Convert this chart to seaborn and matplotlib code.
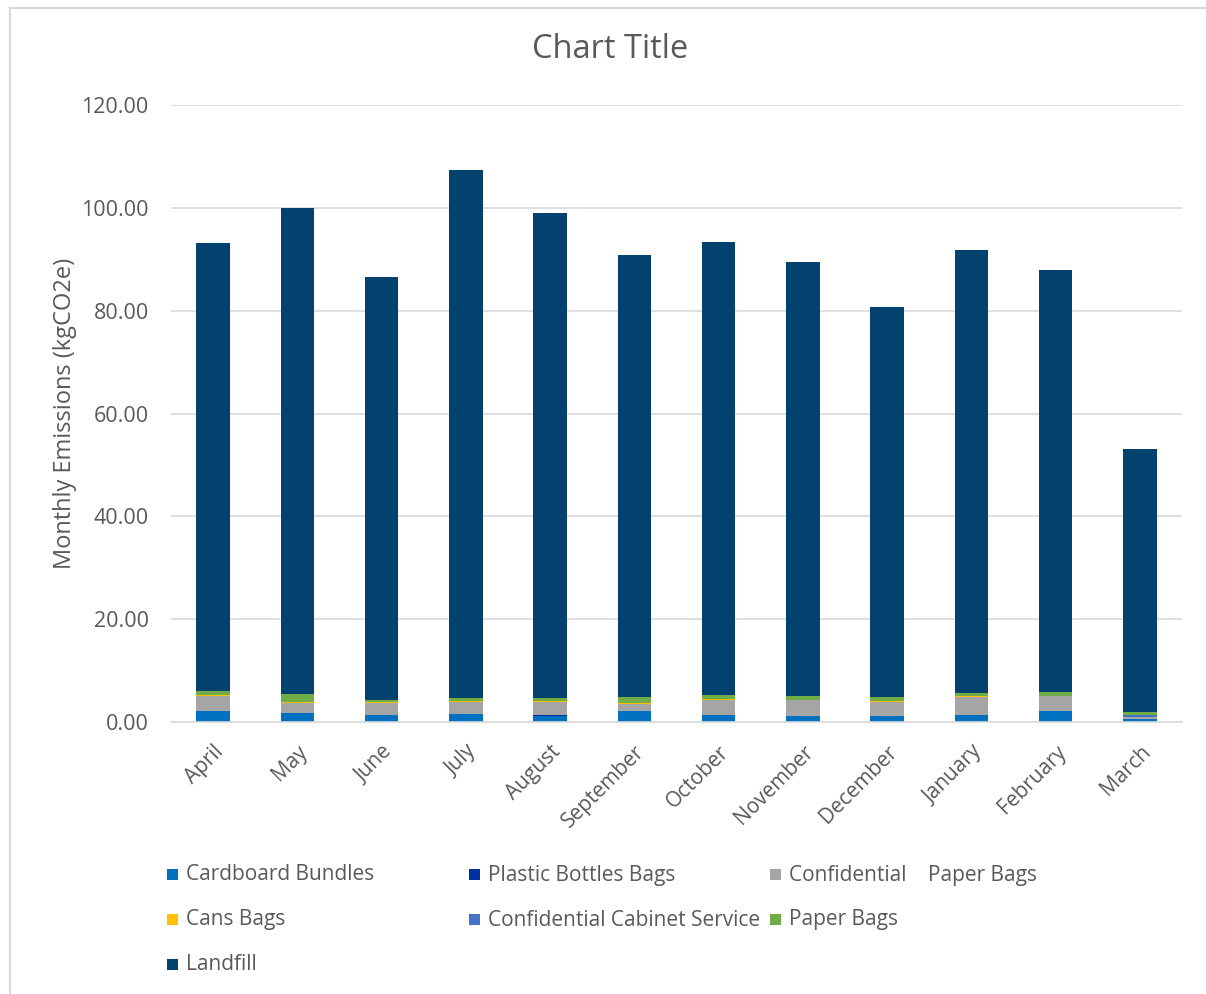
import matplotlib
matplotlib.use("Agg")
import matplotlib.pyplot as plt
import seaborn as sns
import numpy as np
import pandas as pd
from matplotlib.patches import Rectangle

months = ["April", "May", "June", "July", "August", "September", "October",
          "November", "December", "January", "February", "March"]
cardboard = [2.1, 1.7, 1.35, 1.55, 1.25, 2.1, 1.35, 1.15, 1.15, 1.35, 2.15, 0.55]
plastic = [0.02, 0.02, 0.02, 0.02, 0.02, 0.02, 0.02, 0.02, 0.02, 0.02, 0.02, 0.02]
conf_paper = [3.0, 2.05, 2.4, 2.4, 2.7, 1.4, 2.9, 3.05, 2.7, 3.55, 2.9, 0.35]
cans = [0.15, 0.15, 0.1, 0.1, 0.05, 0.2, 0.2, 0.1, 0.2, 0.05, 0.05, 0.1]
cabinet = [0.0, 0.0, 0.0, 0.0, 0.0, 0.0, 0.0, 0.0, 0.0, 0.0, 0.0, 0.25]
paper = [0.75, 1.55, 0.5, 0.65, 0.65, 1.05, 0.7, 0.8, 0.7, 0.7, 0.8, 0.7]
landfill = [87.2, 94.55, 82.2, 102.7, 94.4, 86.1, 88.2, 84.25, 75.9, 86.2, 82.05, 51.2]

series_names = ["Cardboard Bundles", "Plastic Bottles Bags", "Confidential    Paper Bags",
                "Cans Bags", "Confidential Cabinet Service", "Paper Bags", "Landfill"]
series_values = [cardboard, plastic, conf_paper, cans, cabinet, paper, landfill]
series_colors = ["#0070C0", "#002F9F", "#A5A5A5", "#FFC000", "#4472C4", "#70AD47", "#03426F"]

sns.set_theme(style="white")
plt.rcParams['font.family'] = ['Open Sans', 'DejaVu Sans']
text_color = "#595959"

W, H = 1206, 994
fig = plt.figure(figsize=(W / 100, H / 100), dpi=100)
ax = fig.add_axes([171 / W, 1 - 722 / H, (1182 - 171) / W, (722 - 105) / H])

bottom = np.zeros(len(months))
for name, vals, col in zip(series_names, series_values, series_colors):
    df = pd.DataFrame({"month": months, "value": vals})
    sns.barplot(data=df, x="month", y="value", color=col, width=0.4,
                bottom=bottom.copy(), ax=ax, saturation=1, linewidth=0, errorbar=None)
    bottom = bottom + np.array(vals)

ax.set_ylim(0, 120)
ax.set_xlim(-0.5, len(months) - 0.5)
ax.set_yticks(np.arange(0, 121, 20))
ax.set_yticklabels([f"{v:.2f}" for v in np.arange(0, 121, 20)], fontsize=15.5, color=text_color)
ax.yaxis.grid(True, color="#D9D9D9", linewidth=1.2)
ax.set_axisbelow(True)
for s in ["top", "right", "left"]:
    ax.spines[s].set_visible(False)
ax.spines["bottom"].set_color("#D9D9D9")
ax.spines["bottom"].set_linewidth(1.2)
ax.tick_params(axis="y", length=0, pad=16)
ax.tick_params(axis="x", length=0, pad=14)
ax.set_xticks(range(len(months)))
ax.set_xticklabels(months, rotation=45, ha="right", va="top", rotation_mode="anchor",
                   fontsize=15, color=text_color)
ax.set_xlabel("")
ax.set_ylabel("Monthly Emissions (kgCO2e)", fontsize=17, color=text_color, labelpad=3)

fig.text(610 / W, 1 - 50 / H, "Chart Title", ha="center", va="center",
         fontsize=23.5, color=text_color)

# legend laid out in fixed-width columns, row by row
col_x = [167, 469, 770]
row_y = [875, 920, 965]
for i, (name, col) in enumerate(zip(series_names, series_colors)):
    r, c = divmod(i, 3)
    x0, y0 = col_x[c], row_y[r]
    fig.patches.append(Rectangle((x0 / W, 1 - (y0 + 5) / H), 11 / W, 11 / H,
                                 transform=fig.transFigure, facecolor=col, edgecolor="none"))
    fig.text((x0 + 19) / W, 1 - y0 / H, name, ha="left", va="center",
             fontsize=15, color=text_color)

# outer chart border
fig.patches.append(Rectangle((10 / W, -0.01), 1.2, 1 - 8 / H + 0.01, transform=fig.transFigure,
                             fill=False, edgecolor="#D9D9D9", linewidth=1.5))

fig.savefig("out.png", dpi=100)
